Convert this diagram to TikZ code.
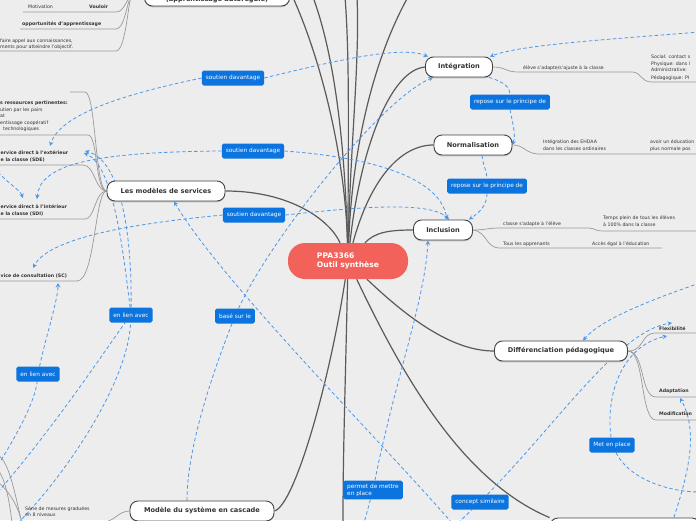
\documentclass[tikz,border=0pt]{standalone}
\usepackage{fontspec}
\setmainfont{DejaVu Sans}
\usetikzlibrary{arrows.meta,shadows}
\definecolor{bg}{HTML}{EDEDED}
\definecolor{txt}{HTML}{333333}
\definecolor{topicline}{HTML}{444444}
\definecolor{branchgray}{HTML}{5A5A5A}
\definecolor{subgray}{HTML}{9A9A9A}
\definecolor{relblue}{HTML}{0B74DE}
\definecolor{linkblue}{HTML}{4C96EA}
\definecolor{cred}{HTML}{F2625A}
\pgfdeclarelayer{bglayer}
\pgfdeclarelayer{lines}
\pgfsetlayers{bglayer,lines,main}
\tikzset{
  topic/.style={draw=topicline, fill=white, line width=0.9pt, rounded corners=8pt,
    font=\bfseries\fontsize{6.6}{7.8}\selectfont, text=txt, minimum height=20pt, inner xsep=6pt,
    drop shadow={shadow xshift=0pt, shadow yshift=-1.3pt, fill=black!35, opacity=0.6}},
  centernode/.style={fill=cred, rounded corners=17pt, minimum width=120pt, minimum height=36pt,
    text=white, font=\bfseries\fontsize{7.6}{9.4}\selectfont, align=left},
  rel/.style={fill=relblue, text=white, rounded corners=1.8pt, font=\fontsize{5.8}{7.2}\selectfont,
    inner xsep=4pt, inner ysep=3pt, minimum height=15pt, align=left},
  link/.style={draw=linkblue, line width=0.8pt, dash pattern=on 3.5pt off 2.5pt},
  arr/.style={-{Stealth[length=4.5pt,width=4.5pt]}},
  branch/.style={draw=branchgray, line width=1.2pt},
  sub/.style={draw=subgray, line width=0.7pt},
  tx/.style={font=\fontsize{4.7}{7}\selectfont, text=txt, inner sep=0pt, anchor=base west},
  txb/.style={font=\bfseries\fontsize{4.7}{7}\selectfont, text=txt, inner sep=0pt, anchor=base west},
}
\begin{document}
\begin{tikzpicture}[x=1pt,y=-1pt]
\begin{pgfonlayer}{bglayer}
\fill[bg] (0,0) rectangle (696,520);
\end{pgfonlayer}
\useasboundingbox (0,0) rectangle (696,520);

% ---------- main topics ----------
\node[centernode] (c) at (348,261) {PPA3366\\Outil synthèse};
\node[topic, minimum width=67pt] (integ) at (459,67) {Intégration};
\node[topic, minimum width=78pt] (norm) at (473,145) {Normalisation};
\node[topic, minimum width=59pt] (incl) at (443,230) {Inclusion};
\node[topic, minimum width=133pt] (diff) at (561,351) {Différenciation pédagogique};
\node[topic, minimum width=118pt] (mod) at (166,191) {Les modèles de services};
\node[topic, minimum width=144pt] (casc) at (202,511) {Modèle du système en cascade};
\node[topic, minimum width=145pt, minimum height=30pt] (top) at (217,-9) {};
\node[font=\bfseries\fontsize{6.6}{7.8}\selectfont, text=txt] (toptxt) at (217,-0.5) {(apprentissage autorégulé)};
\node[topic, minimum width=150pt] (br) at (625,528) {};

% ---------- relation labels ----------
\node[rel] (s1) at (233,78) {soutien davantage};
\node[rel] (rp1) at (510,102) {repose sur le principe de};
\node[rel] (s2) at (253,151) {soutien davantage};
\node[rel] (rp2) at (487,186) {repose sur le principe de};
\node[rel] (s3) at (254,215) {soutien davantage};
\node[rel] (e1) at (131,315) {en lien avec};
\node[rel] (b1) at (235,316) {basé sur le};
\node[rel] (e2) at (38,374) {en lien avec};
\node[rel] (mp) at (612,445) {Met en place};
\node[rel] (pm) at (373,490) {permet de mettre\\en place};
\node[rel] (cs) at (480,502) {concept similaire};

% ---------- sub texts ----------
\node[tx] (n1) at (28,8) {Motivation};
\node[txb] (n2) at (89,8) {Vouloir};
\node[txb] (n3) at (22,25) {opportunités d'apprentissage};
\node[tx] (n4) at (0,42) {faire appel aux connaissances,};
\node[tx] (n5) at (0,48) {ments pour atteindre l'objectif.};

\node[tx] (i1) at (523,69) {élève s'adapte/s'ajuste à la classe};
\node[tx] (i2a) at (651,58) {Social: contact s};
\node[tx] (i2b) at (651,65) {Physique: dans l};
\node[tx] (i2c) at (651,71.5) {Administrative:};
\node[tx] (i2d) at (651,79) {Pédagogique: PI};
\node[tx] (o1a) at (543,143.5) {Intégration des EHDAA};
\node[tx] (o1b) at (543,150.5) {dans les classes ordinaires};
\node[tx] (o2a) at (650,143.5) {avoir un éducation};
\node[tx] (o2b) at (650,150.5) {plus normale pos};
\node[tx] (u1) at (503,225) {classe s'adapte à l'élève};
\node[tx] (u2a) at (603,219.5) {Temps plein de tous les élèves};
\node[tx] (u2b) at (603,226.5) {à 100\% dans la classe};
\node[tx] (u3) at (503,245) {Tous les apprenants};
\node[tx] (u4) at (592,245) {Accès égal à l'éducation};
\node[txb] (d1) at (659,330) {Flexibilité};
\node[txb] (d2) at (659,392) {Adaptation};
\node[txb] (d3) at (659,415.5) {Modification};

\node[txb] (m1) at (0,104) {s ressources pertinentes:};
\node[tx] (m2a) at (0,111) {utien par les pairs};
\node[tx] (m2b) at (0,117.5) {at};
\node[tx] (m2c) at (0,124) {entissage coopératif};
\node[tx] (m3) at (3,130.5) {technologiques};
\node[txb] (m4a) at (0.5,154) {ervice direct à l'extérieur};
\node[txb] (m4b) at (0.5,161) {e la classe (SDE)};
\node[txb] (m5a) at (0.5,208.5) {ervice direct à l'intérieur};
\node[txb] (m5b) at (0.5,215.5) {e la classe (SDI)};
\node[txb] (m6) at (0.5,277) {vice de consultation (SC)};
\node[tx] (k1a) at (25,510) {Série de mesures graduées};
\node[tx] (k1b) at (25,516.5) {en 8 niveaux};

% ---------- free ends ----------
\coordinate (a1) at (313,-3);
\coordinate (a2) at (345,-3);
\coordinate (a3) at (357,-3);
\coordinate (a4) at (408,-3);
\coordinate (abot) at (343,523);
\coordinate (topl) at (132,-6);
\coordinate (sdeTop) at (50,146);
\coordinate (sdeR) at (84,153);
\coordinate (sdeR2) at (85,151);
\coordinate (sdiArr) at (37,199);
\coordinate (sdiL) at (23,198);
\coordinate (sL) at (-2,172);
\coordinate (scArr) at (33,268);
\coordinate (scB) at (58,283);
\coordinate (rUR) at (700,32);
\coordinate (eA) at (-2,492);
\coordinate (eB) at (18,523);
\coordinate (eC) at (-2,465);
\coordinate (brA) at (452,523);
\coordinate (csA) at (458,523);
\coordinate (flexT) at (672,323);
\coordinate (flexB) at (667,336);
\coordinate (mpR) at (700,492);
\coordinate (adB) at (672,523);
\coordinate (adT) at (680,398);
\coordinate (dUR) at (700,283);
\coordinate (pmB) at (364,523);
\coordinate (g1) at (22,523);
\coordinate (g2) at (-2,455);
\coordinate (g3) at (12,523);
\coordinate (g4) at (-2,470);
\coordinate (g5) at (-2,482);

\begin{pgfonlayer}{lines}
\begin{scope}
\clip (0,0) rectangle (696,520);
% ---------- main branches ----------
\draw[branch] (c) .. controls (345,150) and (318,50) .. (top.east);
\draw[branch] (c) .. controls (345,150) and (336,60) .. (a1);
\draw[branch] (c) .. controls (348,150) and (350,60) .. (a2);
\draw[branch] (c) .. controls (350,150) and (360,60) .. (a3);
\draw[branch] (c) .. controls (352,150) and (373,60) .. (a4);
\draw[branch] (c) .. controls (360,150) and (390,70) .. (integ.west);
\draw[branch] (c) .. controls (370,180) and (400,145) .. (norm.west);
\draw[branch] (c) .. controls (375,232) and (390,230) .. (incl.west);
\draw[branch] (c) .. controls (420,330) and (460,351) .. (diff.west);
\draw[branch] (c) .. controls (330,220) and (290,191) .. (mod.east);
\draw[branch] (c) .. controls (330,380) and (295,505) .. (casc.east);
\draw[branch] (c) .. controls (345,400) and (343,450) .. (abot);
\draw[branch] (c) .. controls (400,370) and (460,480) .. (br.north west);

% ---------- sub branches ----------
\draw[sub] (topl) .. controls (126,0) and (124,12) .. (116,12) -- (23,12);
\draw[sub] (topl) .. controls (127,0) and (125,29) .. (116,29) -- (20,29);
\draw[sub] (topl) .. controls (128,0) and (126,51) .. (116,51) -- (-2,51);
\draw[sub] (integ.east) .. controls (505,67) and (506,72) .. (518,72) -- (632,72) .. controls (642,72) and (640,82) .. (652,82) -- (700,82);
\draw[sub] (norm.east) .. controls (525,145) and (525,154) .. (540,154) -- (700,154);
\draw[sub] (incl.east) .. controls (485,230) and (488,228) .. (500,228) -- (588,228) .. controls (595,228) and (595,231) .. (602,231) -- (700,231);
\draw[sub] (incl.east) .. controls (488,232) and (485,248) .. (500,248) -- (662,248);
\draw[sub] (diff.east) .. controls (645,351) and (640,333) .. (656,333) -- (700,333);
\draw[sub] (diff.east) .. controls (645,351) and (640,397) .. (656,397) -- (700,397);
\draw[sub] (diff.east) .. controls (645,351) and (640,420) .. (656,420) -- (700,420);
\draw[sub] (mod.west) .. controls (95,191) and (96,92) .. (85,92) -- (70,92);
\draw[sub] (mod.west) .. controls (95,191) and (98,135) .. (88,135) -- (-2,135);
\draw[sub] (mod.west) .. controls (95,191) and (95,165) .. (83,165) -- (-2,165);
\draw[sub] (mod.west) .. controls (95,191) and (95,219) .. (85,219) -- (-2,219);
\draw[sub] (mod.west) .. controls (95,191) and (95,281) .. (77,281) -- (-2,281);
\draw[sub] (casc.west) .. controls (118,511) and (115,522) .. (100,523);
\draw[sub] (g1) .. controls (16,500) and (10,462) .. (g2);
\draw[sub] (g3) .. controls (10,505) and (6,480) .. (g4);
\draw[sub] (g1) .. controls (18,505) and (8,490) .. (g5);

% ---------- dashed relations ----------
\draw[link,arr] (s1.east) .. controls (330,62) and (400,45) .. ([xshift=3pt]integ.north west);
\draw[link,arr] (s1.west) .. controls (120,95) and (60,115) .. (sdeTop);
\draw[link,arr] (rUR) .. controls (600,40) and (520,45) .. ([xshift=-3pt]integ.north east);
\draw[link] ([xshift=-4pt]integ.south east) .. controls (505,82) and (510,88) .. (rp1.north);
\draw[link,arr] (rp1.south) .. controls (513,125) and (516,135) .. (norm.east);
\draw[link] ([xshift=9pt]norm.south) .. controls (483,165) and (487,172) .. (rp2.north);
\draw[link,arr] (rp2.south) .. controls (487,205) and (480,212) .. ([xshift=-4pt]incl.north east);
\draw[link,arr] (s2.east) .. controls (380,158) and (440,180) .. ([xshift=4pt]incl.north);
\draw[link,arr] (s2.west) .. controls (90,152) and (40,165) .. (sdiArr);
\draw[link,arr] (s3.east) .. controls (350,208) and (430,200) .. ([xshift=6pt]incl.north);
\draw[link,arr] (s3.west) .. controls (150,222) and (50,235) .. (scArr);
\draw[link] (eA) .. controls (60,420) and (112,340) .. (e1);
\draw[link,arr] (e1) .. controls (122,240) and (112,165) .. (sdeR);
\draw[link] (eB) .. controls (70,470) and (128,380) .. (e1);
\draw[link,arr] (e1) .. controls (132,230) and (120,160) .. (sdeR2);
\draw[link] (eC) .. controls (20,430) and (35,400) .. (e2);
\draw[link,arr] (e2) .. controls (45,340) and (58,300) .. (scB);
\draw[link,arr] (sL) .. controls (10,185) and (20,190) .. (sdiL);
\draw[link,arr] (b1) .. controls (270,240) and (380,100) .. ([xshift=8pt]integ.south west);
\draw[link] (b1) .. controls (210,380) and (187,450) .. ([xshift=-15pt]casc.north);
\draw[link,arr] (brA) .. controls (380,440) and (220,280) .. ([xshift=8pt]mod.south);
\draw[link] (csA) -- (cs);
\draw[link,arr] (cs) .. controls (560,420) and (620,330) .. (flexT);
\draw[link,arr] (mp) .. controls (605,390) and (625,345) .. (flexB);
\draw[link] (mp) .. controls (630,480) and (670,492) .. (mpR);
\draw[link,arr] (adB) .. controls (690,470) and (698,430) .. (adT);
\draw[link,arr] (dUR) .. controls (650,300) and (600,320) .. ([xshift=22pt]diff.north);
\draw[link,arr] (pm) .. controls (395,380) and (425,300) .. ([xshift=-15pt]incl.south);
\draw[link] (pm) -- (pmB);
\end{scope}
\end{pgfonlayer}
\end{tikzpicture}
\end{document}
